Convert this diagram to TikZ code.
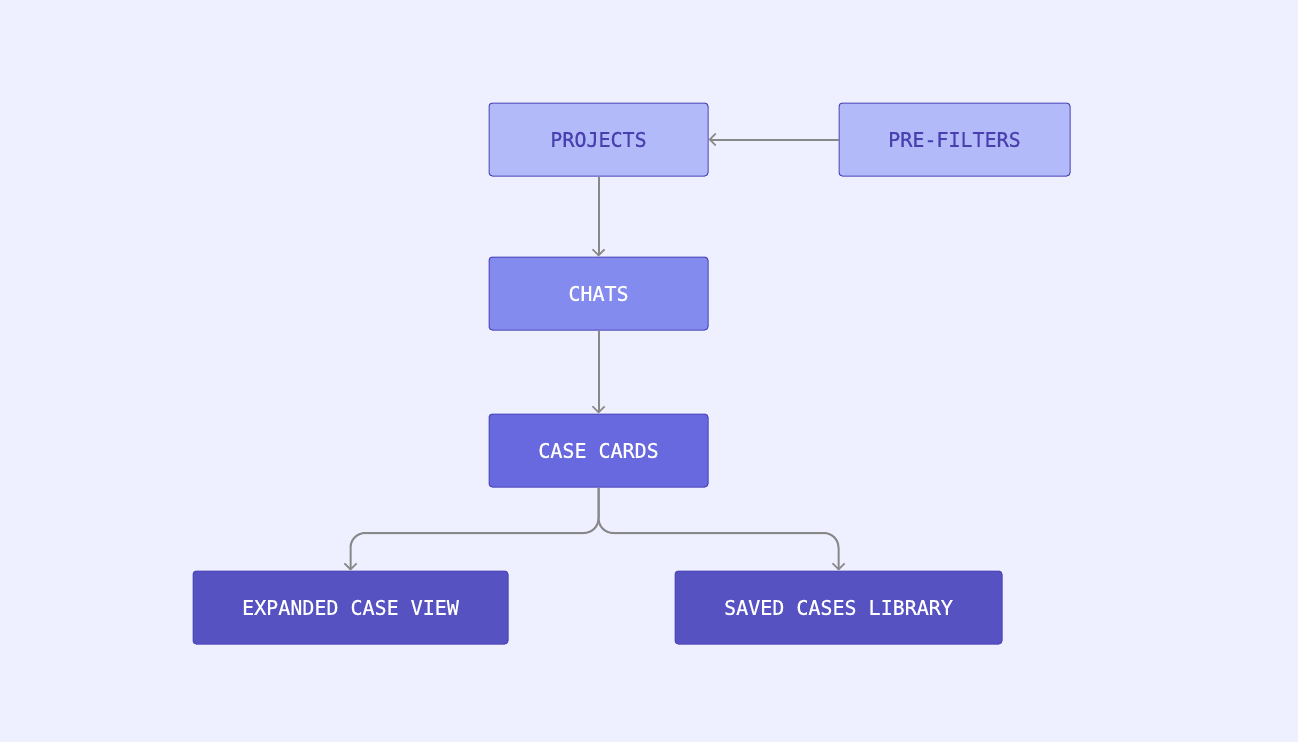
\documentclass[tikz,border=0pt]{standalone}
\usepackage{fontspec}
\newfontfamily\boxfont[FakeBold=0.7]{DejaVu Sans Mono}
\usetikzlibrary{arrows.meta}
\definecolor{bgcol}{HTML}{EEF0FF}
\definecolor{edgecol}{HTML}{4B44B8}
\definecolor{lightfill}{HTML}{B3BAF9}
\definecolor{midfill}{HTML}{848BEF}
\definecolor{deepfill}{HTML}{6868DF}
\definecolor{darkfill}{HTML}{5752C2}
\definecolor{darktext}{HTML}{4A3FAE}
\definecolor{linecol}{HTML}{888888}
\begin{document}
\begin{tikzpicture}[x=0.75pt,y=-0.75pt,
    box/.style={draw=edgecol, line width=0.75pt, rounded corners=2.5pt, minimum height=54.75pt,
        font=\boxfont\fontsize{15}{18}\selectfont, inner sep=0pt},
    conn/.style={draw=linecol, line width=1.5pt, -{Straight Barb[length=4.5pt,width=9pt,line width=1.2pt]}}]
                    % Background
                    \fill[bgcol] (0,0) rectangle (1298,742);
                    \useasboundingbox (0,0) rectangle (1298,742);
                    % Top row
                    \node[box, fill=lightfill, text=darktext, minimum width=164.25pt] (projects) at (598.5,139.5) {PROJECTS};
                    \node[box, fill=lightfill, text=darktext, minimum width=173.25pt] (prefilters) at (954.5,139.5) {PRE-FILTERS};
                    % Middle column
                    \node[box, fill=midfill, text=white, minimum width=164.25pt] (chats) at (598.5,293.5) {CHATS};
                    \node[box, fill=deepfill, text=white, minimum width=164.25pt] (cards) at (598.5,450.5) {CASE CARDS};
                    % Bottom row
                    \node[box, fill=darkfill, text=white, minimum width=236.25pt] (expanded) at (350.5,607.5) {EXPANDED CASE VIEW};
                    \node[box, fill=darkfill, text=white, minimum width=245.25pt] (library) at (838.5,607.5) {SAVED CASES LIBRARY};
                    % Connectors
                    \draw[conn] (prefilters.west) -- (projects.east);
                    \draw[conn] (projects.south) -- (chats.north);
                    \draw[conn] (chats.south) -- (cards.north);
                    \coordinate (split) at (598.5,533);
                    \draw[conn, rounded corners=11pt] (cards.south) -- (split) -| (expanded.north);
                    \draw[conn, rounded corners=11pt] (cards.south) -- (split) -| (library.north);
                \end{tikzpicture}
\end{document}
